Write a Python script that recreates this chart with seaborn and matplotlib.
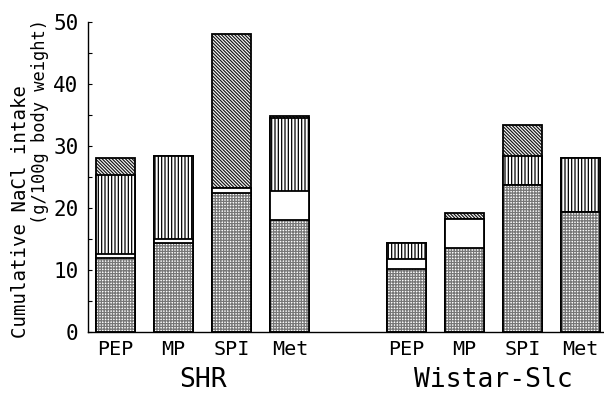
import numpy as np
import pandas as pd
import matplotlib
matplotlib.use("Agg")
import matplotlib.pyplot as plt
import matplotlib.transforms as mtransforms
import seaborn as sns

# ---------------------------------------------------------------------------
# Data (g/100g body weight)
# ---------------------------------------------------------------------------
strains = ["SHR", "Wistar-Slc"]
diets = ["PEP", "MP", "SPI", "Met"]

# one value per bar, order: SHR PEP..Met, Wistar PEP..Met
layer_dotted   = [12.0, 14.3, 22.5, 18.1, 10.2, 13.6, 23.7, 19.4]
layer_white    = [0.6, 0.7, 0.7, 4.6, 1.6, 4.6, 0.0, 0.0]
layer_vertical = [12.7, 13.4, 0.0, 11.9, 2.5, 0.0, 4.7, 8.6]
layer_diagonal = [2.7, 0.0, 24.8, 0.2, 0.0, 1.0, 5.0, 0.0]

y_ticks = [0, 10, 20, 30, 40, 50]
ylabel_lines = ["Cumulative NaCl intake", "(g/100g body weight)"]

# ---------------------------------------------------------------------------
# Plot
# ---------------------------------------------------------------------------
sns.set_theme(style="ticks")
plt.rcParams["font.family"] = ["DejaVu Sans Mono", "DejaVu Sans"]
plt.rcParams["hatch.linewidth"] = 0.9
for key in ["text.color", "axes.labelcolor", "xtick.color", "ytick.color",
            "axes.edgecolor"]:
    plt.rcParams[key] = "black"

n_diet = len(diets)
x_pos = [g * (n_diet + 1) + i for g in range(len(strains)) for i in range(n_diet)]

layers = [
    (layer_dotted,   "++++++", "#777777"),
    (layer_white,    "",       "black"),
    (layer_vertical, "|||||",  "black"),
    (layer_diagonal, "\\" * 10, "#1a1a1a"),
]
cum = np.cumsum([np.array(l[0]) for l in layers], axis=0)

fig = plt.figure(figsize=(6.04, 3.94), dpi=100)
ax = fig.add_axes([0.146, 0.157, 0.852, 0.787])

# draw cumulative tops from tallest to shortest so lower layers cover upper ones
for k in range(len(layers) - 1, -1, -1):
    _, hatch, hcol = layers[k]
    df = pd.DataFrame({"x": x_pos, "y": cum[k]})
    sns.barplot(data=df, x="x", y="y", native_scale=True, width=0.67,
                color="white", saturation=1, ax=ax, errorbar=None)
    for patch in ax.patches[-len(x_pos):]:
        patch.set_facecolor("white")
        patch.set_hatch(hatch)
        patch.set_edgecolor(hcol)
        patch.set_linewidth(0)
    # outline drawn separately in black
    sns.barplot(data=df, x="x", y="y", native_scale=True, width=0.67,
                fill=False, ax=ax, errorbar=None)
    for patch in ax.patches[-len(x_pos):]:
        patch.set_edgecolor("black")
        patch.set_linewidth(1.3)

ax.set_xlim(-0.47, 8.38)
ax.set_ylim(0, 50)
ax.set_yticks(y_ticks)
ax.set_yticks(np.arange(0, 51, 5), minor=True)
ax.tick_params(axis="y", which="both", direction="in", length=3, width=0.8,
               labelsize=15, pad=7)
ax.set_xticks(x_pos)
ax.set_xticklabels(diets * len(strains), fontsize=14.5)
ax.tick_params(axis="x", length=0, pad=6)
ax.set_xlabel("")
ax.set_ylabel("")

# two-line y label, placed as in the original (second line shifted upward)
fig.text(21 / 604, 1 - 211 / 394, ylabel_lines[0], rotation=90,
         ha="center", va="center", fontsize=13.7)
fig.text(40 / 604, 1 - 122 / 394, ylabel_lines[1], rotation=90,
         ha="center", va="center", fontsize=12.3)

trans = mtransforms.blended_transform_factory(ax.transData, fig.transFigure)
for g, name in enumerate(strains):
    centre = g * (n_diet + 1) + (n_diet - 1) / 2
    ax.text(centre, 1 - 380 / 394, name, transform=trans,
            ha="center", va="center", fontsize=19)

sns.despine(ax=ax)
ax.spines["left"].set_linewidth(1.0)
ax.spines["bottom"].set_linewidth(1.0)

fig.savefig("out.png", dpi=100)
